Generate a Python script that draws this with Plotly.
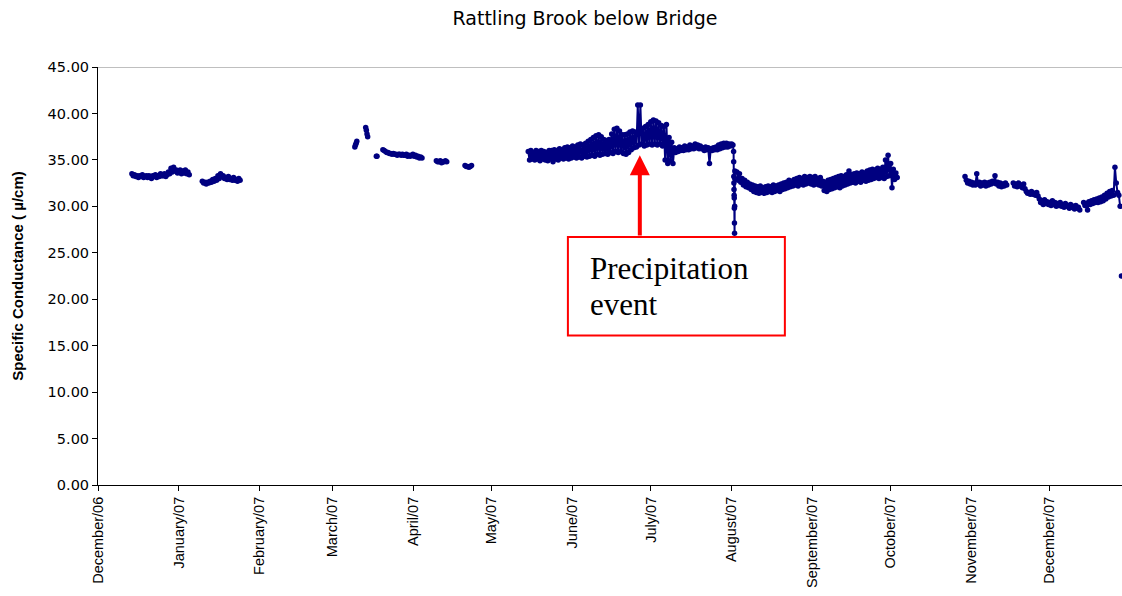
import pandas as pd
import plotly.graph_objects as go

# ---------------- data ----------------
chart_title = "Rattling Brook below Bridge"
y_title = "Specific Conductance ( µ/cm)"
note_lines = ["Precipitation", "event"]

month_ticks = ["2006-12-01", "2007-01-01", "2007-02-01", "2007-03-01", "2007-04-01",
               "2007-05-01", "2007-06-01", "2007-07-01", "2007-08-01", "2007-09-01",
               "2007-10-01", "2007-11-01", "2007-12-01"]
month_labels = ["December/06", "January/07", "February/07", "March/07", "April/07",
                "May/07", "June/07", "July/07", "August/07", "September/07",
                "October/07", "November/07", "December/07"]
y_ticks = [0, 5, 10, 15, 20, 25, 30, 35, 40, 45]

# each logger record block: start time, step (hours), values (µS/cm)
dec06_start, dec06_step = "2006-12-14 00:00", 12
dec06_vals = [33.5, 33.3, 33.4, 33.2, 33.3, 33.1, 33.3, 33.2, 33.4, 33.1, 33.2, 33.3,
              33.1, 33.3, 33.2, 33.0, 33.3, 33.2, 33.4, 33.1, 33.3, 33.2, 33.5, 33.3,
              33.3, 33.5, 33.2, 33.4, 33.7, 33.5, 34.1, 33.7, 34.2, 33.8, 33.9, 33.6,
              33.7, 33.9, 33.5, 33.8, 33.6, 33.9, 33.5, 33.7, 33.4]

jan07_start, jan07_step = "2007-01-10 00:00", 12
jan07_vals = [32.7, 32.5, 32.6, 32.4, 32.6, 32.5, 32.7, 32.6, 32.9, 32.7, 33.0, 32.8,
              33.3, 33.0, 33.5, 33.2, 33.3, 33.0, 33.1, 32.9, 33.2, 32.9, 33.0, 32.8,
              33.1, 32.8, 32.9, 32.7, 33.0, 32.8]

mar07a_start, mar07a_step = "2007-03-09 12:00", 6
mar07a_vals = [36.4, 36.6, 36.8, 37.0]

mar07b_start, mar07b_step = "2007-03-13 16:00", 6
mar07b_vals = [38.5, 38.2, 37.8, 37.5]

mar07c_start, mar07c_step = "2007-03-17 18:00", 6
mar07c_vals = [35.4, 35.4]

mar07d_start, mar07d_step = "2007-03-20 06:00", 12
mar07d_vals = [36.1, 36.0, 35.9, 35.8, 35.8, 35.7, 35.7, 35.6, 35.7, 35.6, 35.6, 35.5,
               35.6, 35.6, 35.5, 35.6, 35.5, 35.5, 35.6, 35.4, 35.5, 35.4, 35.5, 35.6,
               35.4, 35.5, 35.3, 35.4, 35.2, 35.3, 35.2]

apr07a_start, apr07a_step = "2007-04-09 18:00", 12
apr07a_vals = [34.9, 34.8, 34.8, 34.9, 34.7, 34.8, 34.8, 34.9, 34.8]

apr07b_start, apr07b_step = "2007-04-20 18:00", 12
apr07b_vals = [34.4, 34.3, 34.3, 34.2, 34.3, 34.4]

# summer block: daily high / low pairs every 12 h
summer_start, summer_step = "2007-05-15 00:00", 12
summer_vals = [35.9, 35.0, 36.0, 35.1, 35.8, 35.0, 36.0, 35.1, 35.9, 34.9, 36.0, 35.1,
               35.9, 35.0, 35.8, 34.9, 36.0, 35.1, 36.0, 34.8, 36.1, 35.1, 36.0, 35.0,
               36.2, 35.2, 36.1, 35.1, 36.3, 35.2, 36.4, 35.1, 36.3, 35.2,
               36.5, 35.3, 36.4, 35.2, 36.6, 35.3, 36.7, 35.2, 36.6, 35.4, 36.8, 35.3,
               37.0, 35.4, 37.2, 35.5, 37.4, 35.4, 37.6, 35.6, 37.7, 35.5, 37.5, 35.6,
               37.2, 35.7, 37.1, 35.6, 37.2, 35.8, 37.8, 35.7, 38.3, 35.9, 38.4, 35.8,
               38.1, 35.9, 37.7, 35.7, 37.7, 35.6, 37.8, 35.8, 38.0, 36.1, 38.1, 36.3,
               38.0, 36.4, 40.9, 36.6, 40.9, 36.7, 38.4, 36.5, 38.6, 36.6, 38.8, 36.7,
               39.1, 36.6, 39.3, 36.7, 39.2, 36.6, 39.0, 36.7, 38.7, 36.5, 38.6, 35.0,
               38.8, 34.6, 37.4, 34.9, 36.9, 34.6, 36.3, 35.8, 36.2, 35.9, 36.4, 36.0,
               36.3, 36.0, 36.5, 36.1, 36.4, 36.1, 36.6, 36.2, 36.5, 36.2, 36.7, 36.3,
               36.6, 36.2, 36.5, 36.2, 36.3, 36.0, 36.4, 36.1, 36.3, 34.6, 36.2, 36.0,
               36.3, 36.1, 36.4, 36.1, 36.6, 36.2, 36.7, 36.3, 36.8, 36.4, 36.8, 36.4,
               36.7, 36.5, 36.7, 36.6]

# precipitation-event drop, hourly
event_start, event_step = "2007-08-01 18:00", 1
event_vals = [35.9, 34.8, 33.2, 32.5, 31.8, 31.2, 30.9, 29.8, 28.2, 27.1, 30.0, 33.0, 33.8]

fall_start, fall_step = "2007-08-03 00:00", 12
fall_vals = [33.7, 32.8, 33.5, 32.6, 33.0, 32.3, 32.8, 32.1, 32.6, 32.0, 32.4, 31.8,
             32.3, 31.6, 32.2, 31.5, 32.1, 31.4, 32.2, 31.5, 32.0, 31.4, 32.1, 31.5,
             32.2, 31.6, 32.1, 31.5, 32.3, 31.6, 32.2, 31.7, 32.3, 31.6, 32.4, 31.8,
             32.5, 31.9, 32.6, 32.0, 32.8, 32.1, 32.7, 32.2, 32.9, 32.3, 33.0, 32.2,
             33.1, 32.4, 33.0, 32.3, 33.2, 32.4, 33.1, 32.5, 33.2, 32.4,
             33.1, 32.3, 33.2, 32.4, 33.0, 32.3, 33.1, 32.2, 32.7, 31.7, 32.6, 31.6,
             32.8, 31.8, 32.9, 31.9, 33.0, 32.0, 33.1, 32.1, 33.2, 32.0, 33.3, 32.2,
             33.2, 32.3, 33.4, 32.4, 33.8, 32.5, 33.4, 32.6, 33.5, 32.5, 33.6, 32.7,
             33.5, 32.6, 33.7, 32.8, 33.6, 32.7, 33.8, 32.8, 33.9, 32.9, 34.0, 33.0,
             33.9, 33.1, 34.1, 33.0, 34.0, 33.1, 34.2, 33.0, 35.0, 33.2, 35.5, 33.3,
             34.6, 32.0, 34.0, 32.9, 33.6, 33.1]

nov07_start, nov07_step = "2007-10-29 12:00", 12
nov07_vals = [33.2, 32.8, 32.5, 32.7, 32.4, 32.6, 32.3, 32.5, 32.3, 33.5, 32.4, 32.6,
              32.2, 32.5, 32.3, 32.6, 32.2, 32.5, 32.3, 32.6, 32.4, 32.7, 32.5, 33.3,
              32.4, 32.6, 32.2, 32.5, 32.1, 32.4, 32.2, 32.5, 32.3]

late_nov07_start, late_nov07_step = "2007-11-17 00:00", 12
late_nov07_vals = [32.5, 32.2, 32.4, 32.1, 32.5, 32.2, 32.3, 32.0, 32.4, 31.9, 31.6, 31.4,
                   31.5, 31.3, 31.6, 31.3, 31.4, 31.2, 31.5, 31.1, 30.8, 30.4, 30.6, 30.2,
                   30.7, 30.3, 30.5, 30.2, 30.4, 30.1, 30.6, 30.2, 30.4, 30.0, 30.3, 30.1,
                   30.4, 30.0, 30.2, 29.9, 30.3, 30.0, 30.1, 29.8, 30.2, 29.9, 30.0, 29.7,
                   30.1, 29.8, 29.9, 29.6]

dec07_start, dec07_step = "2007-12-14 00:00", 12
dec07_vals = [30.4, 30.1, 30.3, 29.6, 30.5, 30.2, 30.6, 30.3, 30.7, 30.4, 30.8, 30.4,
              30.9, 30.5, 31.0, 30.6, 31.2, 30.8, 31.4, 31.0, 31.6, 31.1, 31.7, 31.2,
              34.2, 32.5, 31.5, 31.2, 30.0]

dec07_end_start, dec07_end_step = "2007-12-28 12:00", 12
dec07_end_vals = [22.5]

# record blocks; blocks inside one inner list are continuous (joined by the line)
records = [
    [(dec06_start, dec06_step, dec06_vals)],
    [(jan07_start, jan07_step, jan07_vals)],
    [(mar07a_start, mar07a_step, mar07a_vals)],
    [(mar07b_start, mar07b_step, mar07b_vals)],
    [(mar07c_start, mar07c_step, mar07c_vals)],
    [(mar07d_start, mar07d_step, mar07d_vals)],
    [(apr07a_start, apr07a_step, apr07a_vals)],
    [(apr07b_start, apr07b_step, apr07b_vals)],
    [(summer_start, summer_step, summer_vals),
     (event_start, event_step, event_vals),
     (fall_start, fall_step, fall_vals)],
    [(nov07_start, nov07_step, nov07_vals)],
    [(late_nov07_start, late_nov07_step, late_nov07_vals)],
    [(dec07_start, dec07_step, dec07_vals)],
    [(dec07_end_start, dec07_end_step, dec07_end_vals)],
]

x_all, y_all = [], []
for seg in records:
    for start, step, vals in seg:
        idx = pd.date_range(start, periods=len(vals), freq=f"{step}h")
        x_all.extend(idx)
        y_all.extend(vals)
    x_all.append(None)
    y_all.append(None)

NAVY = "#000080"
RED = "#FF0000"

fig = go.Figure()
fig.add_trace(go.Scatter(
    x=x_all, y=y_all, mode="lines+markers",
    line=dict(color=NAVY, width=2, simplify=False),
    marker=dict(color=NAVY, size=5.5, line=dict(width=0)),
    connectgaps=False, showlegend=False, hoverinfo="x+y",
))

fig.update_layout(
    width=1122, height=596,
    margin=dict(l=98, r=0, t=67, b=111),
    paper_bgcolor="white", plot_bgcolor="white",
    title=dict(text=chart_title, x=0.5214, xanchor="center", y=0.970, yanchor="middle",
               font=dict(family="DejaVu Sans, sans-serif", size=19, color="black")),
    showlegend=False,
)

fig.update_xaxes(
    type="date", automargin=False,
    range=["2006-12-01", "2007-12-28 17:00"],
    tickmode="array", tickvals=month_ticks, ticktext=month_labels,
    tickangle=-90,
    tickfont=dict(family="Liberation Sans, Arial, sans-serif", size=14.5, color="black"),
    ticks="outside", ticklen=5, tickcolor="black",
    showline=True, linecolor="black", linewidth=1,
    showgrid=False, zeroline=False,
)
fig.update_yaxes(
    automargin=False,
    range=[0, 45],
    tickmode="array", tickvals=y_ticks, tickformat=".2f",
    tickfont=dict(family="DejaVu Sans, sans-serif", size=14.5, color="black"),
    ticks="outside", ticklen=5, tickcolor="black",
    showline=True, linecolor="black", linewidth=1,
    showgrid=False, zeroline=False,
    title=dict(text="<b>" + y_title + "</b>", standoff=20,
               font=dict(family="Liberation Sans, Arial, sans-serif", size=15, color="black")),
)

# top border line at 45
fig.add_shape(type="line", xref="paper", yref="y", x0=0, x1=1, y0=45, y1=45,
              line=dict(color="#808080", width=1))

# annotation box
fig.add_shape(type="rect", xref="x", yref="y",
              x0="2007-05-30 05:00", x1="2007-08-21 10:00", y0=16.1, y1=26.7,
              line=dict(color=RED, width=2), fillcolor="white", layer="above")
for line_text, y_pos in zip(note_lines, [23.3, 19.4]):
    fig.add_annotation(x="2007-06-06 22:00", y=y_pos, xref="x", yref="y",
                       xanchor="left", yanchor="middle", align="left", showarrow=False,
                       text=line_text,
                       font=dict(family="Liberation Serif, Times New Roman, serif",
                                 size=31, color="black"))
# arrow pointing to the event
fig.add_annotation(x="2007-06-26 19:00", y=35.5, xref="x", yref="y",
                   ax="2007-06-26 19:00", ay=26.7, axref="x", ayref="y",
                   text="", showarrow=True, arrowhead=2, arrowsize=1,
                   arrowwidth=4, arrowcolor=RED, standoff=0)

fig.write_html("out.html", config={"displayModeBar": False},
               post_script="document.body.style.margin='0px';")
